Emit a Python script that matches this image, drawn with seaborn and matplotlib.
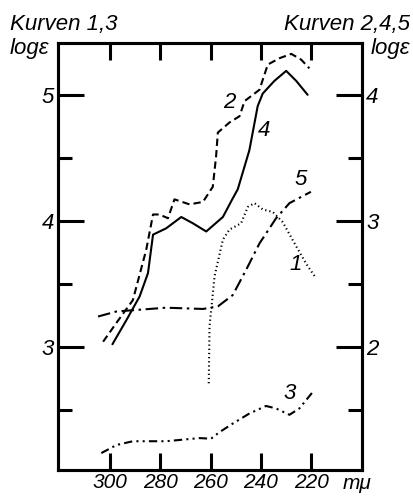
import numpy as np
import pandas as pd
import seaborn as sns
import matplotlib.pyplot as plt
from matplotlib.ticker import MultipleLocator

# curve values (wavelength in mμ, log ε)
# curves 1 and 3 -> left axis, curves 2, 4, 5 -> right axis
wl_1 = [260.7, 260.4, 258.4, 255.1, 252.5, 247.9, 245.2, 242.6, 239.3, 235.3, 231.4, 226.1, 222.1, 218.2]
le_1 = [2.71, 3.16, 3.56, 3.85, 3.93, 3.98, 4.11, 4.14, 4.09, 4.07, 3.99, 3.80, 3.66, 3.545]

wl_3 = [303.3, 297.3, 290.8, 277.6, 264.4, 259.8, 256.6, 251.2, 244.6, 238.0, 234.0, 228.7, 224.8, 219.5]
le_3 = [2.156, 2.22, 2.25, 2.25, 2.275, 2.27, 2.32, 2.39, 2.47, 2.53, 2.51, 2.46, 2.51, 2.64]

wl_2 = [302.6, 297.3, 290.8, 285.5, 282.8, 280.2, 276.9, 274.3, 268.3, 263.0, 259.1, 257.8, 257.1,
        252.5, 248.5, 246.5, 240.6, 237.3, 232.7, 228.0, 224.1, 220.8]
le_2 = [2.04, 2.19, 2.37, 2.77, 3.05, 3.05, 3.02, 3.17, 3.13, 3.15, 3.27, 3.51, 3.70,
        3.78, 3.83, 3.95, 4.04, 4.24, 4.29, 4.325, 4.28, 4.21]

wl_4 = [298.9, 293.4, 288.1, 284.8, 282.8, 277.6, 271.6, 267.0, 261.7, 255.1, 251.4, 249.2,
        244.6, 241.3, 239.3, 234.7, 230.0, 226.0, 221.5]
le_4 = [2.02, 2.21, 2.40, 2.585, 2.89, 2.94, 3.03, 2.98, 2.915, 3.03, 3.17, 3.25,
        3.56, 3.91, 4.01, 4.11, 4.19, 4.11, 4.00]

wl_5 = [304.6, 297.3, 290.8, 277.6, 263.0, 257.1, 251.2, 245.9, 240.6, 234.0, 228.7, 220.2]
le_5 = [2.24, 2.28, 2.29, 2.31, 2.30, 2.32, 2.41, 2.61, 2.82, 3.02, 3.14, 3.23]

x_ticks = [300, 280, 260, 240, 220]
left_ticks = [3, 4, 5]
right_ticks = [2, 3, 4]

sns.set_style("white")
plt.rcParams['font.family'] = ['Liberation Sans', 'DejaVu Sans']
plt.rcParams['font.style'] = 'italic'
plt.rcParams['text.color'] = 'black'
plt.rcParams['xtick.color'] = 'black'
plt.rcParams['ytick.color'] = 'black'

fig = plt.figure(figsize=(4.14, 4.96), dpi=100)
ax = fig.add_axes([0.140, 0.052, 0.734, 0.861])
ax2 = ax.twinx()

def draw(a, wl, le, style):
    df = pd.DataFrame({'wl': wl, 'le': le})
    sns.lineplot(data=df, x='wl', y='le', ax=a, sort=False, estimator=None,
                 color='black', linewidth=1.5, linestyle=style)

draw(ax, wl_1, le_1, (0, (0.6, 1.4)))
draw(ax, wl_3, le_3, (0, (4, 2, 1, 2, 1, 2)))
draw(ax2, wl_2, le_2, (0, (3.5, 2)))
draw(ax2, wl_4, le_4, '-')
draw(ax2, wl_5, le_5, (0, (6, 2.2, 1.2, 2.2)))

ax.set_xlim(320.5, 200)
ax.set_ylim(2.02, 5.41)
ax2.set_ylim(1.02, 4.41)

ax.set_xticks(x_ticks)
ax.set_xticklabels([str(v) for v in x_ticks])
ax.set_yticks(left_ticks)
ax.yaxis.set_minor_locator(MultipleLocator(0.5))
ax2.set_yticks(right_ticks)
ax2.yaxis.set_minor_locator(MultipleLocator(0.5))

for a in (ax, ax2):
    a.set_xlabel('')
    a.set_ylabel('')
    for s in a.spines.values():
        s.set_linewidth(2.2)
        s.set_color('black')

ax.tick_params(axis='x', which='major', direction='in', length=12, width=2.2,
               top=True, bottom=True, labelsize=15, pad=2)
ax.tick_params(axis='y', which='major', direction='in', length=19, width=2.2,
               left=True, right=False, labelsize=16, pad=3)
ax.tick_params(axis='y', which='minor', direction='in', length=10, width=2.2,
               left=True, right=False)
ax2.tick_params(axis='y', which='major', direction='in', length=19, width=2.2,
                right=True, left=False, labelsize=16, pad=3)
ax2.tick_params(axis='y', which='minor', direction='in', length=10, width=2.2,
                right=True, left=False)

# curve numbers
ax.text(252.5, 4.94, '2', fontsize=16, ha='center', va='center')
ax.text(238.6, 4.72, '4', fontsize=16, ha='center', va='center')
ax.text(224.1, 4.33, '5', fontsize=16, ha='center', va='center')
ax.text(226.3, 3.65, '1', fontsize=16, ha='center', va='center')
ax.text(228.7, 2.63, '3', fontsize=16, ha='center', va='center')

# headers
fig.text(0.024, 0.950, 'Kurven 1,3', fontsize=16, ha='left', va='center')
fig.text(0.024, 0.903, 'log\u03b5', fontsize=16, ha='left', va='center')
fig.text(0.990, 0.950, 'Kurven 2,4,5', fontsize=16, ha='right', va='center')
fig.text(0.990, 0.903, 'log\u03b5', fontsize=16, ha='right', va='center')
fig.text(0.862, 0.026, 'm\u03bc', fontsize=15, ha='center', va='center')

fig.savefig('out.png', dpi=100)
